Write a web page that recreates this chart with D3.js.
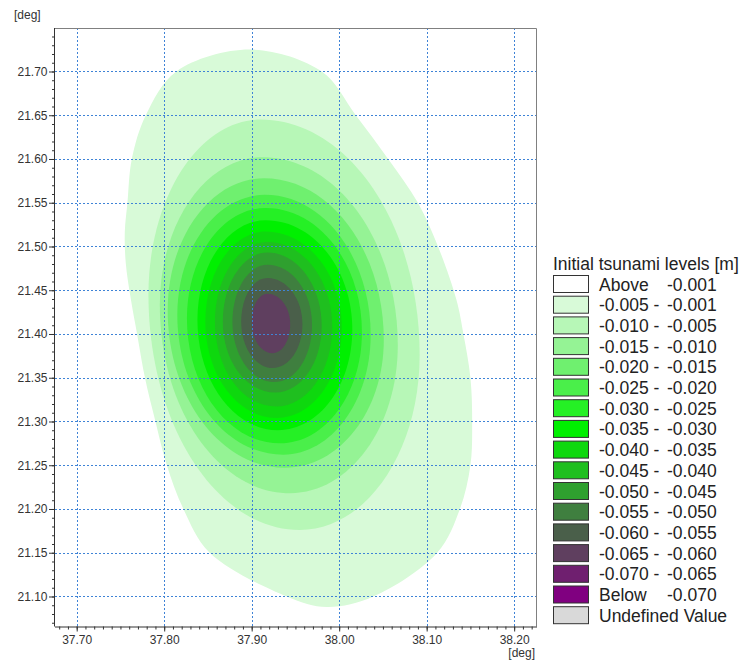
<!DOCTYPE html>
<html><head><meta charset="utf-8">
<script src="https://cdn.jsdelivr.net/npm/d3@7"></script>
<style>
body{margin:0;background:#fff;}
text{font-family:"Liberation Sans",Arial,sans-serif;}
</style>
</head><body>
<svg id="chart" width="742" height="661"></svg>
<script>
// ---- data ----
const lonTicks = [37.70, 37.80, 37.90, 38.00, 38.10, 38.20];
const latTicks = [21.10, 21.15, 21.20, 21.25, 21.30, 21.35, 21.40, 21.45, 21.50, 21.55, 21.60, 21.65, 21.70];

// outermost contour (-0.001 m), boundary points [lon, lat]
const outerContour = [
  [37.898,21.725],[37.980,21.700],[38.019,21.650],[38.056,21.600],[38.090,21.550],
  [38.113,21.500],[38.134,21.439],[38.142,21.400],[38.150,21.350],[38.152,21.300],
  [38.150,21.250],[38.138,21.200],[38.112,21.150],[38.039,21.100],[37.986,21.088],
  [37.940,21.100],[37.852,21.150],[37.822,21.200],[37.803,21.250],[37.790,21.300],
  [37.778,21.350],[37.769,21.400],[37.762,21.439],[37.756,21.482],[37.755,21.517],
  [37.758,21.550],[37.763,21.600],[37.779,21.650],[37.814,21.700]
];

// inner contours: levels and extreme points [lon, lat]
const innerLevels = [-0.005,-0.010,-0.015,-0.020,-0.025,-0.030,-0.035,-0.040,-0.045,-0.050,-0.055,-0.060];
const innerTop = [
  [37.910,21.645],[37.912,21.602],[37.914,21.578],[37.915,21.559],[37.916,21.544],[37.916,21.530],
  [37.916,21.517],[37.918,21.505],[37.918,21.493],[37.918,21.479],[37.918,21.464],[37.918,21.446]
];
const innerRight = [
  [38.092,21.376],[38.067,21.387],[38.051,21.393],[38.036,21.399],[38.026,21.402],[38.015,21.405],
  [38.003,21.407],[37.992,21.408],[37.980,21.409],[37.969,21.410],[37.958,21.411],[37.944,21.411]
];
const innerBottom = [
  [37.955,21.176],[37.944,21.218],[37.938,21.247],[37.936,21.262],[37.932,21.275],[37.930,21.290],
  [37.929,21.304],[37.928,21.317],[37.927,21.333],[37.926,21.345],[37.924,21.361],[37.924,21.378]
];
const innerLeft = [
  [37.782,21.445],[37.795,21.433],[37.804,21.427],[37.815,21.422],[37.826,21.418],[37.838,21.416],
  [37.847,21.414],[37.858,21.414],[37.867,21.414],[37.878,21.414],[37.888,21.414],[37.900,21.414]
];

// legend
const legendTitle = "Initial tsunami levels [m]";
const legendLeft = ["Above","-0.005 -","-0.010 -","-0.015 -","-0.020 -","-0.025 -","-0.030 -","-0.035 -",
  "-0.040 -","-0.045 -","-0.050 -","-0.055 -","-0.060 -","-0.065 -","-0.070 -","Below","Undefined Value"];
const legendRight = ["-0.001","-0.001","-0.005","-0.010","-0.015","-0.020","-0.025","-0.030",
  "-0.035","-0.040","-0.045","-0.050","-0.055","-0.060","-0.065","-0.070",""];
const legendColors = ["#ffffff","#d8fad8","#b7f7b7","#95f395","#6ff06f","#4aef4a","#25f025","#00f000",
  "#0ed80e","#1fbf1f","#2fa02f","#3f7f3f","#4a5f4a","#5f3f5f","#6f1f6f","#800080","#d9d9d9"];

// ---- layout ----
const svg = d3.select("#chart");
const plot = {left:55, right:537, top:28, bottom:626.5};
const x = d3.scaleLinear().domain([37.6752, 38.2261]).range([plot.left, plot.right]);
const y = d3.scaleLinear().domain([21.0657, 21.7497]).range([plot.bottom, plot.top]);

svg.append("defs").append("clipPath").attr("id","clip")
  .append("rect").attr("x",plot.left).attr("y",plot.top)
  .attr("width",plot.right-plot.left).attr("height",plot.bottom-plot.top);

const g = svg.append("g").attr("clip-path","url(#clip)");

// outer contour
const line = d3.line().x(d=>x(d[0])).y(d=>y(d[1])).curve(d3.curveCatmullRomClosed.alpha(0.5));
g.append("path").attr("d", line(outerContour)).attr("fill", legendColors[1]);

// inner contours
const K = 0.5523;
function eggPath(t, r, b, l){
  const T=[x(t[0]),y(t[1])], R=[x(r[0]),y(r[1])], B=[x(b[0]),y(b[1])], L=[x(l[0]),y(l[1])];
  const p = d3.path();
  p.moveTo(T[0],T[1]);
  p.bezierCurveTo(T[0]+K*(R[0]-T[0]),T[1], R[0],R[1]-K*(R[1]-T[1]), R[0],R[1]);
  p.bezierCurveTo(R[0],R[1]+K*(B[1]-R[1]), B[0]+K*(R[0]-B[0]),B[1], B[0],B[1]);
  p.bezierCurveTo(B[0]-K*(B[0]-L[0]),B[1], L[0],L[1]+K*(B[1]-L[1]), L[0],L[1]);
  p.bezierCurveTo(L[0],L[1]-K*(L[1]-T[1]), T[0]-K*(T[0]-L[0]),T[1], T[0],T[1]);
  p.closePath();
  return p.toString();
}
innerLevels.forEach((lv,i)=>{
  g.append("path").attr("d", eggPath(innerTop[i],innerRight[i],innerBottom[i],innerLeft[i]))
    .attr("fill", legendColors[i+2]);
});

// grid
const grid = svg.append("g").attr("stroke","#3f83d6").attr("stroke-width",1).attr("stroke-dasharray","2,2");
lonTicks.forEach(v=>grid.append("line").attr("x1",Math.round(x(v))+0.5).attr("x2",Math.round(x(v))+0.5)
  .attr("y1",plot.top).attr("y2",plot.bottom));
latTicks.forEach(v=>grid.append("line").attr("y1",Math.round(y(v))+0.5).attr("y2",Math.round(y(v))+0.5)
  .attr("x1",plot.left).attr("x2",plot.right));

// frame top/right
svg.append("path").attr("d",`M${plot.left},${plot.top+0.5}H${plot.right-0.5}V${plot.bottom}`)
  .attr("fill","none").attr("stroke","#808080").attr("stroke-width",1);

// axes
const minorLon = d3.range(3768, 3823).map(v=>v/100);
const minorLat = d3.range(2107, 2175).map(v=>v/100);

function styleAxis(sel){
  sel.selectAll("path.domain").attr("stroke","#333");
  sel.selectAll(".tick line").attr("stroke","#333");
  sel.selectAll("text").attr("fill","#333").style("font-size","12px")
    .style("font-family","'Liberation Sans',Arial,sans-serif");
}
const xMinor = svg.append("g").attr("transform",`translate(0,${plot.bottom})`)
  .call(d3.axisBottom(x).tickValues(minorLon).tickSize(3).tickSizeOuter(0).tickFormat(""));
const xMajor = svg.append("g").attr("transform",`translate(0,${plot.bottom})`)
  .call(d3.axisBottom(x).tickValues(lonTicks).tickSize(5).tickSizeOuter(0).tickPadding(4).tickFormat(d3.format(".2f")));
const yMinor = svg.append("g").attr("transform",`translate(${plot.left},0)`)
  .call(d3.axisLeft(y).tickValues(minorLat).tickSize(3).tickSizeOuter(0).tickFormat(""));
const yMajor = svg.append("g").attr("transform",`translate(${plot.left},0)`)
  .call(d3.axisLeft(y).tickValues(latTicks).tickSize(6).tickSizeOuter(0).tickPadding(1.5).tickFormat(d3.format(".2f")));
[xMinor,xMajor,yMinor,yMajor].forEach(styleAxis);
xMinor.select("path.domain").attr("d",`M${plot.left},0.5H${plot.right}`);
yMinor.select("path.domain").attr("d",`M-0.5,${plot.top}V${plot.bottom}`);
xMajor.select("path.domain").remove();
yMajor.select("path.domain").remove();

// unit labels
svg.append("text").attr("x",14).attr("y",19).text("[deg]").attr("fill","#333").style("font-size","12px");
svg.append("text").attr("x",535).attr("y",657).attr("text-anchor","end").text("[deg]").attr("fill","#333").style("font-size","12px");

// legend
const lg = svg.append("g");
lg.append("text").attr("x",553).attr("y",270).text(legendTitle).attr("fill","#222").style("font-size","17.5px");
const pitch = 20.7;
legendColors.forEach((c,i)=>{
  const top = 275 + i*pitch;
  lg.append("rect").attr("x",553.5).attr("y",top+0.5).attr("width",35).attr("height",17)
    .attr("fill",c).attr("stroke","#333").attr("stroke-width",1);
  lg.append("text").attr("x",599).attr("y",top+15.5).text(legendLeft[i]).attr("fill","#222").style("font-size","17.5px");
  if(legendRight[i]) lg.append("text").attr("x",667).attr("y",top+15.5).text(legendRight[i]).attr("fill","#222").style("font-size","17.5px");
});
</script>
</body></html>
